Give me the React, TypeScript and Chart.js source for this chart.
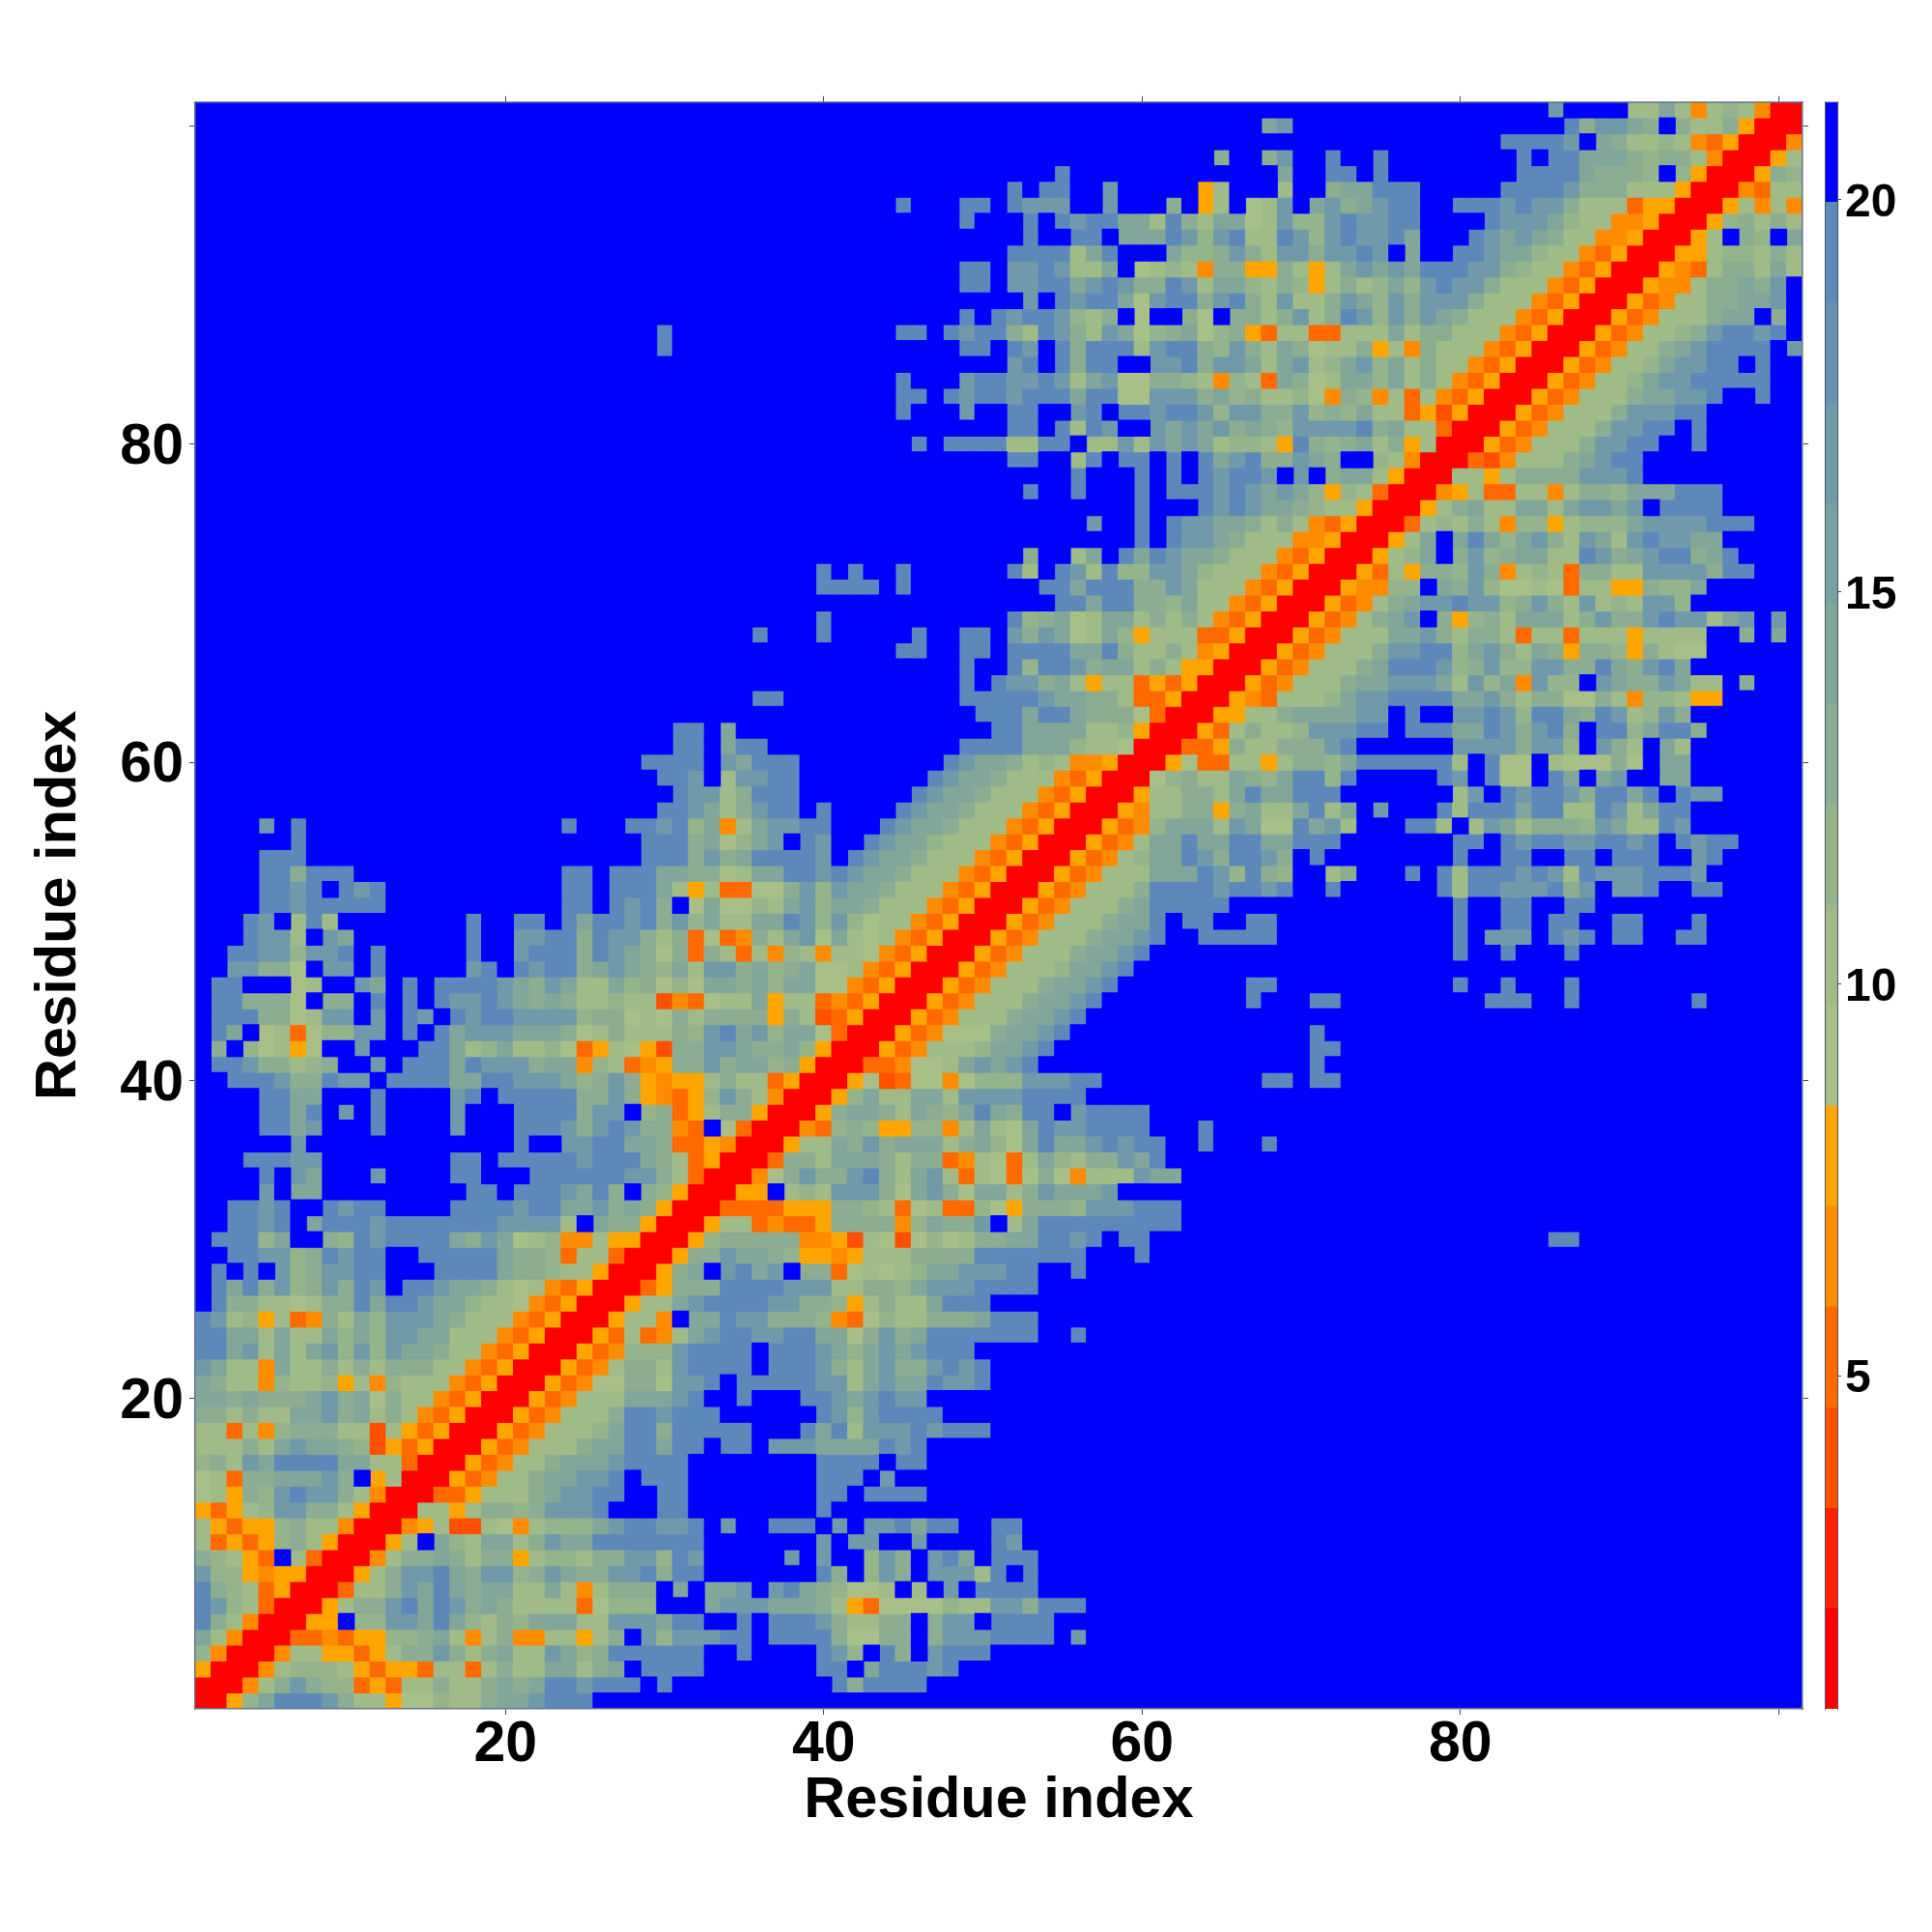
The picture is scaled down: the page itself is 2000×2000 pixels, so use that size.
import React, { useEffect, useRef } from "react";
import { Chart, registerables } from "chart.js";

Chart.register(...registerables);

// Residues along both axes
const residueCount = 101;
const axisTicks = [20, 40, 60, 80, 100];
const labelledTicks = [20, 40, 60, 80];
const colorbarTicks = [5, 10, 15, 20];
const axisTitle = "Residue index";

// Colour bands of the colour bar
const bandEdges = [0.75, 2.03, 3.31, 4.59, 5.88, 7.16, 8.44, 9.72, 11, 12.28, 13.56, 14.84, 16.13, 17.41, 18.69, 19.97, 21.25];
const bandColors = ["#ff0000", "#ff2000", "#ff5000", "#ff6a00", "#ff8c00", "#ffa500", "#a8c088", "#a0ba88", "#96b48c", "#8cad92", "#82a69a", "#78a0a2", "#7099a9", "#6691b2", "#5c89ba", "#0000ff"];

// Distance read for each letter used in the rows below
const distanceOfLetter: Record<string, number> = {
  "0": 1.4, "1": 2.7, "2": 3.9, "3": 5.2, "4": 6.5, "5": 7.8, "7": 9.1, "8": 10.4,
  "9": 11.7, a: 13, b: 14.3, c: 16.8, d: 19.4,
};
const diagonalDistance = 1.4;
const noContactDistance = 21;

// Upper triangle (x > y), one string per y; "start:letters" runs, anything else is beyond the cut-off.
const rows01to12 = [
  "2:059bdddca 11:885779 17:88abbc 23:ddd",
  "3:048aca99 11:35388a88 19:abab 23:ddcddd 30:d 41:dadddd",
  "4:048999 10:8535538 17:838a88 23:bb8ab 29:dddd 40:dd 43:bdddcd",
  "5:04885535 13:8aaca8 19:ab88cb9a 27:dddddd 35:d 40:dc9 44:da 47:cddd",
  "6:0334 10:35599ab84 19:8a448858a 29:c9cccdd 37:dddd 41:a77aa 47:accc 51:dddd 56:c",
  "7:055 11:99ccbdb98a9 22:bbb88cccbdd 35:d 37:dddca88aa 47:acc 51:dddd",
  "8:058aacdbdcab 20:a888837999 33:bcccbbba85 43:37777988cca 54:ddd",
  "9:0388acbdbabb 21:88b848aaa 31:b 33:bbc 37:cdba9778 46:8 48:c 50:dddd",
  "10:058accdbacc9acb 25:aaccdadd 40:da 43:9ca 47:ccc8d 53:d",
  "11:048aaba8aa5899 25:8aacc9dc 38:c 40:c 43:9ca 47:cdb 51:ddd",
  "12:058 16:b98bb8acbb 26:ddddddd 40:c 42:cc 46:c 51:dc",
  "13:0458228748999 26:bcddccd 34:c 37:ddd 41:c 43:ccdbdd 51:dd",
];
const rows13to24 = [
  "14:08858aa9acccd 30:dd 40:d",
  "15:0335888abccdd 30:dd 40:dd 43:dddd",
  "16:053488abbccd 29:ddd 40:ddd 44:c",
  "17:053488abbbc 28:dddd 40:dddd 45:dd",
  "18:0534888abb 28:ddbdd 34:dd 37:cccbbbbdcd",
  "19:05348889b 28:ddaddddd 39:dbd8cccdcddd",
  "20:0534888a 28:ddcddd 40:dc9cdddd",
  "21:0534888bbbcd 35:d 39:ddcbcdcc",
  "22:053477aa7ccd 35:ddddd 40:cc8bcbbdccd",
  "23:05348aa8cdddd 37:ddd 40:ca8bcaacdcd",
  "24:0534999cdddd 37:ddd 40:cb9bcbcddd",
  "25:0538348bcddccddbb7acab 47:ddddddd 56:d",
];
const rows25to36 = [
  "26:05884 32:bbdccaaa9437988aaabddd",
  "27:0588bcddddccaa958a88bddd",
  "28:035aaaddddccc88aa9bcccdddd",
  "29:05ab 34:cdbc 39:aa378789bbcccdd 56:d",
  "30:05aacbba95545888aaaa 50:ddddddd 60:d",
  "31:059aaaaa445287279 48:78aabb 54:ddcd 59:dd 86:dd",
  "32:05883433 40:5aaaa49baac 52:8b 54:ddddddddd",
  "33:03333555aa983783397 52:5aaa9cccddd",
  "34:055 38:898ccca7bca7bb8acbbbc",
  "35:047acaacda8bc83 50:87 52:37a74888cbb",
  "36:03aa8bbba8aa3487 52:38b98aacbd",
  "37:0588bacab 46:bb8ab97bdbbcdcdd 64:d 68:d",
];
const rows37to48 = [
  "38:0439a9559948b87bdccdddd 64:d",
  "39:05abba8ba9bdbadd 56:cdddd",
  "40:059b88bb8ccccdddd",
  "41:05723774799 52:9cccdd 68:dd 71:dd",
  "42:03347 47:78bcbcd 71:d",
  "43:053488 49:89bbcd 71:dd",
  "44:053477 50:7abbcd 71:d",
  "45:0534888abbcd",
  "46:0534888abbcd 67:d 71:dd 82:ddd 87:d 95:d",
  "47:0534888abbcd 67:dd 80:d 83:d 87:d",
  "48:05348889bbcd",
  "49:0534888abbcd 80:d 83:d 87:d",
];
const rows49to60 = [
  "50:0534888abbcd 64:ddddd 80:d 82:ccc 86:dcd 90:dd 94:dd",
  "51:0534888abbd 63:dd 67:dd 80:d 83:dd 86:dd 90:dd 95:d",
  "52:0534888abddddd 80:d 83:dd 87:dd",
  "53:0534888addddcddcd 72:d 79:d8ddcccdac 90:ccd 95:dd",
  "54:0534888bbbdc9da9 72:8a 77:d 79:d8dddcdc8dcccdddc",
  "55:053489bbdcaddca 71:d 80:d 83:dd 87:dd 90:ddd 95:cd",
  "56:05348bbdbbddbbddd 80:dd 83:dcddccddcd 94:dcdd",
  "57:05349bbb8cb77dbc8 77:dd8 81:8cb8aaa9cb88dc",
  "58:05488aa5ab88bd8b 75:c 79:d8dddbdd88dc8bdd",
  "59:0588aa8bdbbddd 80:8c 83:dcddcaddbd 94:dcc",
  "60:079a88ba9bdd9d 79:dc 82:d77 86:db 89:bc 93:bb",
  "61:0573388 68:58aa9b 74:dddddd8 82:d77 86:8777a7 93:bb",
];
const rows61to72 = [
  "62:0335a88aaacd 80:ccccacc9 89:ca8 93:b8",
  "63:0538a889cccdd 77:dddbbdcacda 89:dd9bdda",
  "64:05588abbbbcc 77:d 80:ccdc9ddbadc89ca",
  "65:05438889bccdddd 80:bbca8aa77a8499855",
  "66:0534888abbcccb8c9b4c99 89:cbaacb88 98:a",
  "67:0534888abdddc9ac99ccaadbacdb",
  "68:0534888accdd9bca8ba5aa95a877",
  "69:0534888bbca8aa83883888 91:58888 98:a 100:b",
  "70:05348abc 79:a59a8bbb8acaacdcc8bc 100:c",
  "71:05348abccdcc9aca8c898cc9",
  "72:054499 79:bac97787388 90:55a99b",
  "73:05385aa9ca4898 87:3aa88ccccadd",
];
const rows73to86 = [
  "74:0589b 80:ac9abb88dcabcddabd",
  "75:058b 80:bdb9bca8cb8cdccbb",
  "76:0389 80:8a84 84:99 86:58999bccccddd",
  "77:058ab88bb8bccbc 93:dddd",
  "78:04583388 86:48aa9bbbddd",
  "79:08858aaaacccd",
  "80:0324888abcdd",
  "81:0534888accdd 95:d",
  "82:0534888accdd 95:d",
  "83:0534888acccdd",
  "84:0534888abbccd 99:d",
  "85:0534889bccddddd",
  "86:0534889bccdd 99:d",
  "87:053488abcdddd 101:c",
];
const rows87to101 = [
  "88:0534889acddcd",
  "89:0534888abb 100:a",
  "90:053488aabbc",
  "91:05448aabac",
  "92:05438aa8b8",
  "93:0558998a8",
  "94:058 98:a9 101:b",
  "95:059a8a8",
  "96:058484",
  "97:04388",
  "98:05a9",
  "99:058",
  "100:04",
  "101:0",
  "",
];

const upperRows = [...rows01to12, ...rows13to24, ...rows25to36, ...rows37to48, ...rows49to60, ...rows61to72, ...rows73to86, ...rows87to101];

function bandOf(value: number) {
  for (let i = 0; i < bandColors.length; i++) if (value < bandEdges[i + 1]) return i;
  return bandColors.length - 1;
}

function buildMatrix() {
  const matrix: number[][] = [];
  for (let y = 0; y < residueCount; y++) matrix.push(new Array(residueCount).fill(noContactDistance));
  const put = (tokens: string, y: number) => {
    tokens.split(" ").filter(Boolean).forEach((token) => {
      const [start, letters] = token.split(":");
      [...letters].forEach((ch, i) => {
        const x = Number(start) + i;
        const v = distanceOfLetter[ch];
        if (x <= residueCount && v !== undefined) {
          matrix[y - 1][x - 1] = v;
          matrix[x - 1][y - 1] = v;
        }
      });
    });
  };
  upperRows.forEach((row, i) => put(row, i + 1));
  for (let i = 0; i < residueCount; i++) matrix[i][i] = diagonalDistance;
  return matrix;
}

const PLOT = { left: 202, right: 1866, top: 105.5, bottom: 1769 };
const fontFamily = "'Liberation Sans', Arial, sans-serif";
const frameColor = "#66758a";

const areaBackdrop = {
  id: "areaBackdrop",
  beforeDatasetsDraw(chart: any) {
    const { ctx, chartArea: a } = chart;
    ctx.save();
    ctx.fillStyle = bandColors[bandColors.length - 1];
    ctx.fillRect(a.left, a.top, a.right - a.left, a.bottom - a.top);
    ctx.restore();
  },
};

export default function App() {
  const mainRef = useRef<HTMLCanvasElement>(null);
  const barRef = useRef<HTMLCanvasElement>(null);

  useEffect(() => {
    const matrix = buildMatrix();
    const far: any[] = [];
    const near: any[] = [];
    matrix.forEach((row, yi) =>
      row.forEach((v, xi) => {
        (bandOf(v) === bandColors.length - 1 ? far : near).push({ x: xi + 1, y: yi + 1, v });
      })
    );
    const cellRadius = ((PLOT.right - PLOT.left) / residueCount + 1) / Math.SQRT2;
    const setTicks = (scale: any) => {
      scale.ticks = axisTicks.map((value) => ({ value }));
    };
    const axisBase = {
      type: "linear",
      min: 0.5,
      max: residueCount + 0.5,
      afterBuildTicks: setTicks,
      border: { color: frameColor, width: 1.5, z: 2 },
      grid: { drawOnChartArea: false, drawTicks: true, tickLength: 6, tickColor: "#444", lineWidth: 1 },
    };
    const tickFormat = (v: any) => (labelledTicks.includes(Number(v)) ? String(v) : "");
    const tickFont = { family: fontFamily, size: 59, weight: "bold" as const, lineHeight: 1 };
    const titleFont = { family: fontFamily, size: 59.5, weight: "bold" as const, lineHeight: 1 };

    const main = new Chart(mainRef.current!, {
      type: "scatter",
      data: {
        datasets: [
          {
            label: "beyond cut-off",
            data: far,
            pointStyle: "rect",
            pointRadius: cellRadius,
            pointBorderWidth: 0,
            pointBackgroundColor: bandColors[bandColors.length - 1],
          },
          {
            label: "distance",
            data: near,
            pointStyle: "rect",
            pointRadius: cellRadius,
            pointBorderWidth: 0,
            pointBackgroundColor: (c: any) => bandColors[bandOf(c.raw.v)],
          },
        ],
      } as any,
      plugins: [areaBackdrop],
      options: {
        animation: false,
        responsive: false,
        devicePixelRatio: 1,
        layout: { padding: 0 },
        plugins: { legend: { display: false }, tooltip: { enabled: false } },
        events: [],
        scales: {
          x: {
            ...axisBase,
            position: "bottom",
            afterFit: (s: any) => { s.height = 2000 - PLOT.bottom; },
            ticks: { color: "#000", font: tickFont, padding: 2, maxRotation: 0, autoSkip: false, callback: tickFormat },
            title: { display: true, text: axisTitle, color: "#000", font: titleFont, padding: { top: 0, bottom: 105.5 } },
          },
          y: {
            ...axisBase,
            position: "left",
            afterFit: (s: any) => { s.width = PLOT.left; },
            ticks: { color: "#000", font: tickFont, padding: 6, labelOffset: 4, autoSkip: false, callback: tickFormat },
            title: { display: true, text: axisTitle, color: "#000", font: titleFont, padding: { top: 32, bottom: 0 } },
          },
          xTop: {
            ...axisBase,
            position: "top",
            afterFit: (s: any) => { s.height = PLOT.top; },
            ticks: { display: false },
          },
          yRight: {
            ...axisBase,
            position: "right",
            afterFit: (s: any) => { s.width = 2000 - PLOT.right; },
            ticks: { display: false },
          },
        },
      } as any,
    });

    const barLeftPad = 9;
    const barYBase = {
      type: "linear",
      min: bandEdges[0],
      max: bandEdges[bandEdges.length - 1],
      border: { color: "#4a5560", width: 1, z: 2 },
    };
    const bar = new Chart(barRef.current!, {
      type: "bar",
      data: {
        labels: ["distance"],
        datasets: bandColors.map((color, i) => ({
          label: String(i),
          data: [[bandEdges[i], bandEdges[i + 1]]],
          backgroundColor: color,
          borderWidth: 0,
          barPercentage: 1,
          categoryPercentage: 1,
          grouped: false,
        })),
      } as any,
      options: {
        animation: false,
        responsive: false,
        devicePixelRatio: 1,
        layout: { padding: 0 },
        plugins: { legend: { display: false }, tooltip: { enabled: false } },
        events: [],
        scales: {
          x: {
            display: true,
            position: "bottom",
            afterFit: (s: any) => { s.height = 2000 - PLOT.bottom; },
            ticks: { display: false },
            grid: { display: false, drawTicks: false },
            border: { display: false },
          },
          xTop: {
            type: "linear",
            display: true,
            position: "top",
            afterFit: (s: any) => { s.height = PLOT.top; },
            ticks: { display: false },
            grid: { display: false, drawTicks: false },
            border: { display: false },
          },
          yLeft: {
            ...barYBase,
            position: "left",
            afterFit: (s: any) => { s.width = barLeftPad; },
            ticks: { display: false },
            grid: { display: false, drawTicks: false },
          },
          y: {
            ...barYBase,
            position: "right",
            afterFit: (s: any) => { s.width = 98; },
            afterBuildTicks: (s: any) => { s.ticks = colorbarTicks.map((value) => ({ value })); },
            grid: { drawOnChartArea: false, drawTicks: true, tickLength: 4, tickColor: "#444", lineWidth: 1 },
            ticks: {
              color: "#000",
              font: { family: fontFamily, size: 48, weight: "bold", lineHeight: 1 },
              padding: 4,
              labelOffset: 4,
              autoSkip: false,
            },
          },
        },
      } as any,
    });

    return () => {
      main.destroy();
      bar.destroy();
    };
  }, []);

  return (
    <div style={{ position: "absolute", left: 0, top: 0, width: 2000, height: 2000, background: "#fff" }}>
      <canvas ref={mainRef} width={2000} height={2000} style={{ position: "absolute", left: 0, top: 0 }} />
      <canvas ref={barRef} width={120} height={2000} style={{ position: "absolute", left: 1880, top: 0 }} />
    </div>
  );
}
